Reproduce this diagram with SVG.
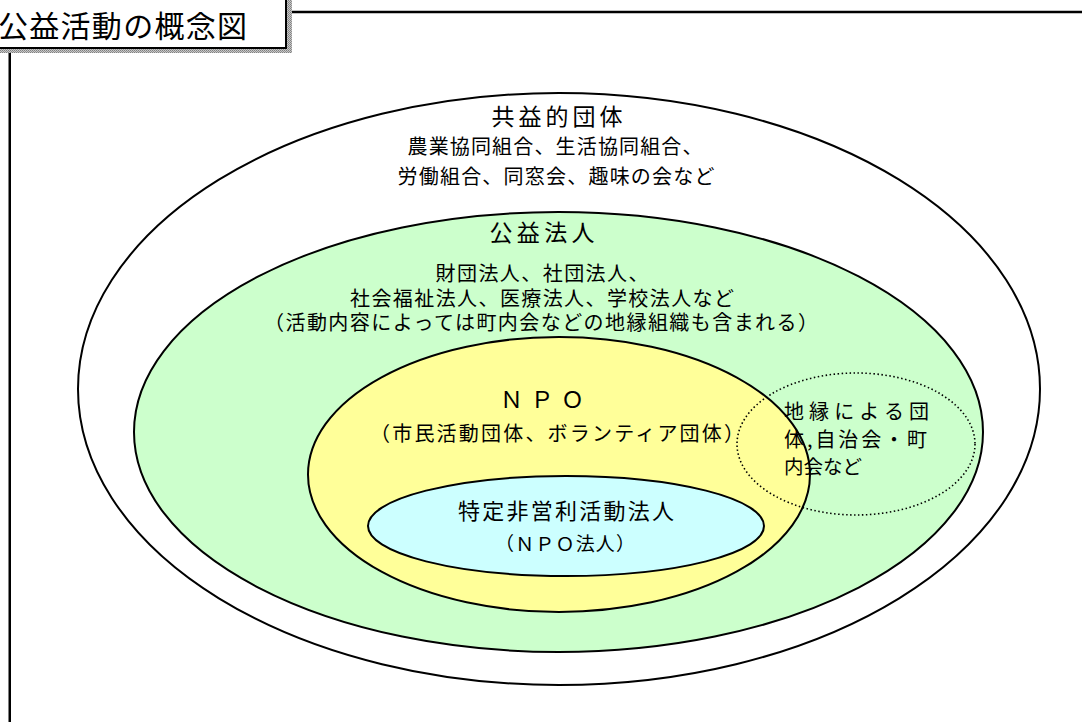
<svg xmlns="http://www.w3.org/2000/svg" width="1082" height="722" viewBox="0 0 1082 722">
<defs>
<pattern id="stipple" width="2" height="2" patternUnits="userSpaceOnUse">
<rect width="2" height="2" fill="#c8c8c8"/>
<rect width="1" height="1" fill="#808080"/>
<rect x="1" y="1" width="1" height="1" fill="#909090"/>
</pattern>
<style>
text{font-family:"Noto Sans CJK JP","Noto Sans CJK SC",sans-serif;fill:#000;}
.c{text-anchor:middle;}
.el{stroke:#000;stroke-width:2;}
.frame{stroke:#000;stroke-width:2.5;fill:none;}
</style>
</defs>
<rect width="1082" height="722" fill="#fff"/>

<g id="frame">
<rect x="-5" y="-5" width="297" height="58" fill="url(#stipple)"/>
<rect x="-10" y="-10" width="296" height="58" fill="#fff" stroke="#000" stroke-width="2"/>
<line class="frame" x1="292" y1="12" x2="1082" y2="12"/>
<line class="frame" x1="9.75" y1="53" x2="9.75" y2="722"/>
<text x="-2" y="37" font-size="30" textLength="249" lengthAdjust="spacing">公益活動の概念図</text>
</g>

<g id="kyoueki">
<ellipse class="el" cx="559" cy="389" rx="481" ry="296" fill="#fff"/>
<text class="c" x="557" y="125" font-size="23" textLength="131" lengthAdjust="spacing">共益的団体</text>
<text class="c" x="555" y="154" font-size="20" textLength="295" lengthAdjust="spacing">農業協同組合、生活協同組合、</text>
<text class="c" x="556" y="184" font-size="20" textLength="317" lengthAdjust="spacing">労働組合、同窓会、趣味の会など</text>
</g>

<g id="kouekihoujin">
<ellipse class="el" cx="558.5" cy="432" rx="424.5" ry="220" fill="#ccffcc"/>
<text class="c" x="542" y="241" font-size="23" textLength="105" lengthAdjust="spacing">公益法人</text>
<text class="c" x="542" y="281" font-size="20" textLength="213" lengthAdjust="spacing">財団法人、社団法人、</text>
<text class="c" x="542" y="306" font-size="20" textLength="384" lengthAdjust="spacing">社会福祉法人、医療法人、学校法人など</text>
<text class="c" x="541" y="330" font-size="20" textLength="554" lengthAdjust="spacing">（活動内容によっては町内会などの地縁組織も含まれる）</text>
</g>

<g id="npo">
<ellipse class="el" cx="559" cy="474.5" rx="251" ry="137.5" fill="#ffff99"/>
<text class="c" x="542" y="408" font-size="23" textLength="84" lengthAdjust="spacing">ＮＰＯ</text>
<text class="c" x="557" y="441" font-size="20" textLength="374" lengthAdjust="spacing">（市民活動団体、ボランティア団体）</text>
</g>

<g id="npohoujin">
<ellipse class="el" cx="566" cy="526" rx="198" ry="50" fill="#ccffff"/>
<text class="c" x="566" y="519" font-size="22" textLength="216" lengthAdjust="spacing">特定非営利活動法人</text>
<text class="c" x="565" y="551" font-size="19" textLength="140" lengthAdjust="spacing">（ＮＰＯ法人）</text>
</g>

<g id="chien">
<ellipse cx="856" cy="444" rx="119" ry="71" fill="none" stroke="#000" stroke-width="1.6" stroke-dasharray="1.5 2.5"/>
<text x="784" y="419" font-size="20" textLength="145" lengthAdjust="spacing">地縁による団</text>
<text x="784" y="447" font-size="20" textLength="143" lengthAdjust="spacing">体,自治会・町</text>
<text x="784" y="474" font-size="19.5">内会など</text>
</g>

<g id="connectors"></g>
</svg>
